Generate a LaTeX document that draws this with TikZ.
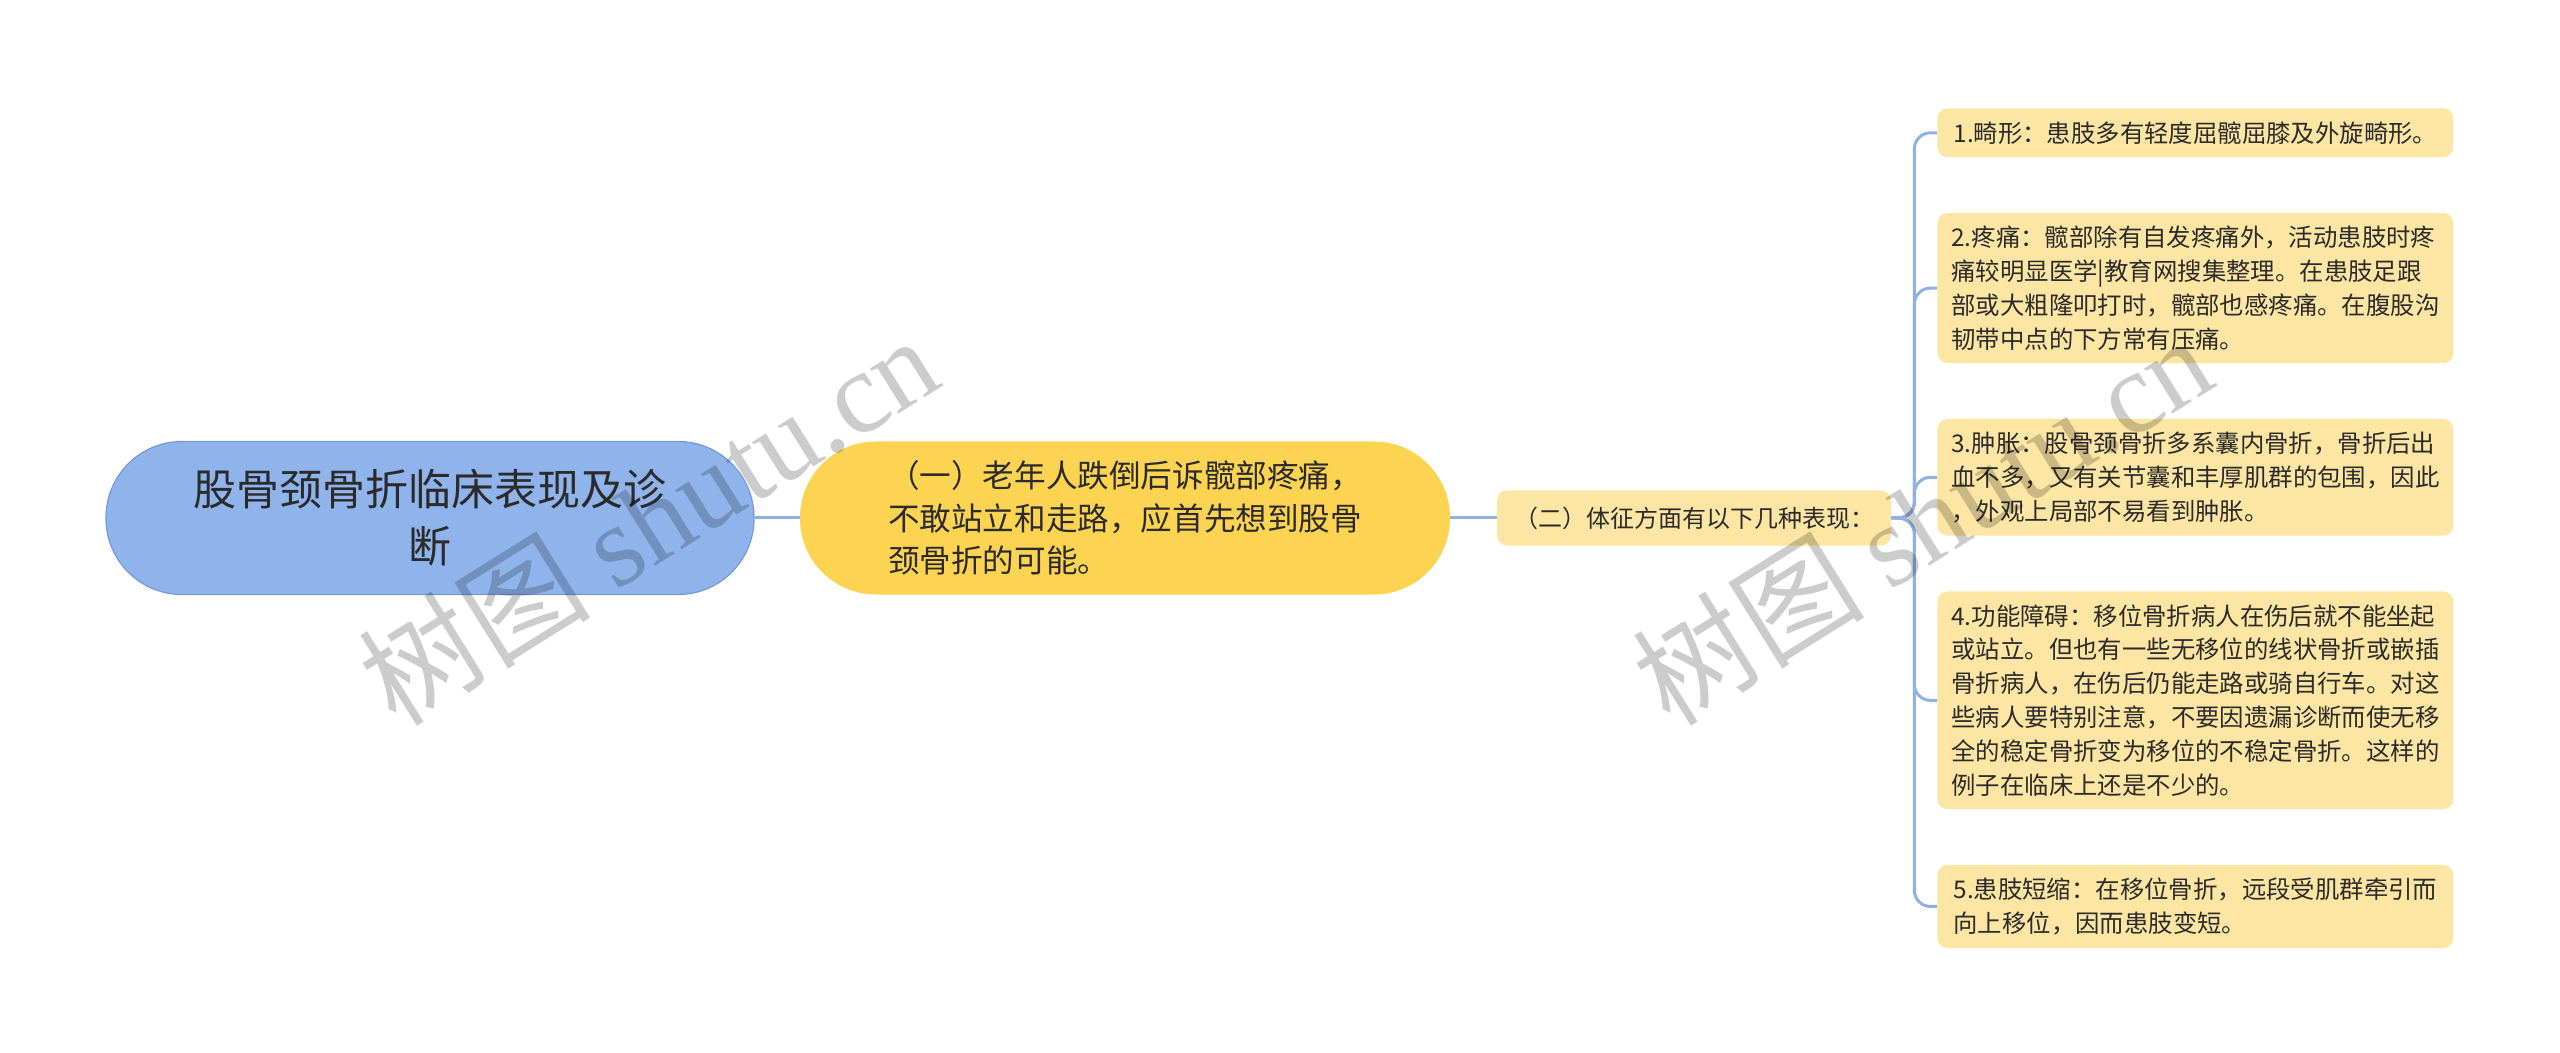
\documentclass[tikz,border=0pt]{standalone}
\usepackage{fontspec}
\setmainfont{Noto Sans CJK SC}
\newfontfamily\wmfont{Liberation Serif}
\usepackage{xcolor}
\usetikzlibrary{positioning}

\definecolor{rootblue}{HTML}{8FB4EC}
\definecolor{rootedge}{HTML}{7399DA}
\definecolor{midyellow}{HTML}{FDD352}
\definecolor{leafyellow}{HTML}{FDE6A3}
\definecolor{linkblue}{HTML}{8FB1E6}
\definecolor{txt}{HTML}{2B2B2B}

\begin{document}
\begin{tikzpicture}[x=0.5pt,y=-0.5pt,link/.style={draw=linkblue, line width=1.5pt}]
        \tikzstyle{root} = [fill=rootblue, draw=rootedge, line width=0.6pt, rounded corners=38pt, minimum width=324pt, minimum height=76.5pt, align=center, text=txt, font=\fontsize{21.5}{28.5}\selectfont]
        \tikzstyle{mid} = [fill=midyellow, rounded corners=38pt, minimum width=325pt, minimum height=76.5pt, align=left, text=txt, font=\fontsize{15.8}{21.3}\selectfont]
        \tikzstyle{leaf} = [fill=leafyellow, rounded corners=5pt, align=left, inner xsep=6.5pt, inner ysep=6.5pt, minimum width=258pt, text=txt, font=\fontsize{12.2}{16.9}\selectfont]
        \tikzstyle{wm} = [rotate=32, text=black, text opacity=0.2, font=\fontsize{58}{58}\selectfont]
        \useasboundingbox (0,0) rectangle (2560,1053);

        \node[root] (root) at (430,518) {股骨颈骨折临床表现及诊\\断};
        \node[mid] (mid) at (1125,518) {（一）老年人跌倒后诉髋部疼痛，\\不敢站立和走路，应首先想到股骨\\颈骨折的可能。};
        \node[leaf, minimum width=197pt, minimum height=27.5pt, font=\fontsize{12}{14}\selectfont] (sub) at (1694,518) {（二）体征方面有以下几种表现：};

        \node[leaf, anchor=north west] (l1) at (1937,108) {1.畸形：患肢多有轻度屈髋屈膝及外旋畸形。};
        \node[leaf, below=27.5pt of l1.south west, anchor=north west] (l2) {2.疼痛：髋部除有自发疼痛外，活动患肢时疼\\痛较明显医学|教育网搜集整理。在患肢足跟\\部或大粗隆叩打时，髋部也感疼痛。在腹股沟\\韧带中点的下方常有压痛。};
        \node[leaf, below=27.5pt of l2.south west, anchor=north west] (l3) {3.肿胀：股骨颈骨折多系囊内骨折，骨折后出\\血不多，又有关节囊和丰厚肌群的包围，因此\\，外观上局部不易看到肿胀。};
        \node[leaf, below=27.5pt of l3.south west, anchor=north west] (l4) {4.功能障碍：移位骨折病人在伤后就不能坐起\\或站立。但也有一些无移位的线状骨折或嵌插\\骨折病人，在伤后仍能走路或骑自行车。对这\\些病人要特别注意，不要因遗漏诊断而使无移\\全的稳定骨折变为移位的不稳定骨折。这样的\\例子在临床上还是不少的。};
        \node[leaf, below=27.5pt of l4.south west, anchor=north west] (l5) {5.患肢短缩：在移位骨折，远段受肌群牵引而\\向上移位，因而患肢变短。};

        \draw [link] (root) -- (mid);
        \draw [link] (mid) -- (sub);
        \foreach \n in {l1,l2,l3,l4,l5}
            \draw [link, rounded corners=8pt] (sub.east) -- ++(23,0) |- (\n.west);

        % watermark
        \node[wm] (wm1) at (648,519) {树图 {\wmfont shutu.cn}};
        \node[wm] (wm2) at (1922,519) {树图 {\wmfont shutu.cn}};
\end{tikzpicture}
\end{document}
